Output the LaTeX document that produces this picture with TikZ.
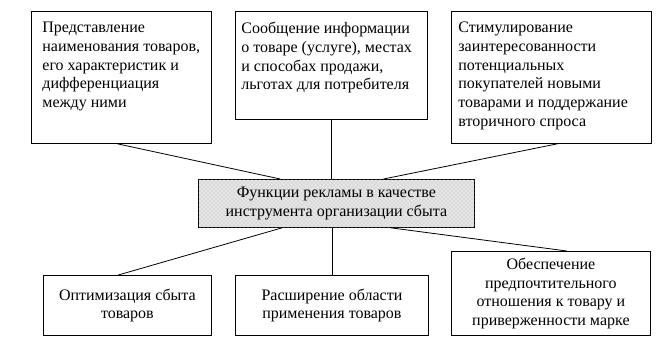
\documentclass[tikz,border=0pt]{standalone}
\usepackage{fontspec}
\setmainfont{Liberation Serif}
\usetikzlibrary{calc,patterns}
\definecolor{fnpaper}{gray}{0.90}
\definecolor{fngrain}{gray}{0.72}

\begin{document}
\begin{tikzpicture}[x=0.75pt,y=-0.75pt,font=\fontsize{12pt}{14pt}\selectfont,line width=0.6pt,
  box/.style={draw,anchor=north west,inner sep=0pt},
  txt/.style={anchor=north west,align=left,inner sep=0pt},
  link/.style={line width=0.6pt}]
  \useasboundingbox (0,0) rectangle (663,347);

  % top row
  \node[box,minimum width=135pt,minimum height=99pt] (pres) at (31,11) {};
  \node[txt] at (42,22) {Представление\\наименования товаров,\\его характеристик и\\дифференциация\\между ними};
  \node[box,minimum width=144pt,minimum height=81pt] (info) at (235,11) {};
  \node[txt] at (241,22) {Сообщение информации\\о товаре (услуге), местах\\и способах продажи,\\льготах для потребителя};
  \node[box,minimum width=150pt,minimum height=99pt] (stim) at (451,11) {};
  \node[txt] at (458,22) {Стимулирование\\заинтересованности\\потенциальных\\покупателей новыми\\товарами и поддержание\\вторичного спроса};

  % centre
  \node[box,align=center,minimum width=207pt,minimum height=36pt,fill=fnpaper,
    postaction={pattern=crosshatch dots,pattern color=fngrain}] (func) at (198,179)
    {Функции рекламы в качестве\\инструмента организации сбыта};

  % bottom row
  \node[box,align=center,minimum width=126pt,minimum height=45pt] (opt) at (43,275) {Оптимизация сбыта\\товаров};
  \node[box,align=center,minimum width=144.75pt,minimum height=45pt] (ext) at (235,275) {Расширение области\\применения товаров};
  \node[box,align=center,minimum width=149.25pt,minimum height=63pt] (pref) at (451,251) {Обеспечение\\предпочтительного\\отношения к товару и\\приверженности марке};

  \draw[link] ($(pres.south west)!0.478!(pres.south east)$) -- ($(func.north west)!0.297!(func.north east)$);
  \draw[link] (info.south) -- (info.south |- func.north);
  \draw[link] ($(stim.south west)!0.53!(stim.south east)$) -- ($(func.north west)!0.67!(func.north east)$);
  \draw[link] ($(func.south west)!0.304!(func.south east)$) -- ($(opt.north west)!0.446!(opt.north east)$);
  \draw[link] (ext.north |- func.south) -- (ext.north);
  \draw[link] ($(func.south west)!0.696!(func.south east)$) -- ($(pref.north west)!0.58!(pref.north east)$);
\end{tikzpicture}
\end{document}
